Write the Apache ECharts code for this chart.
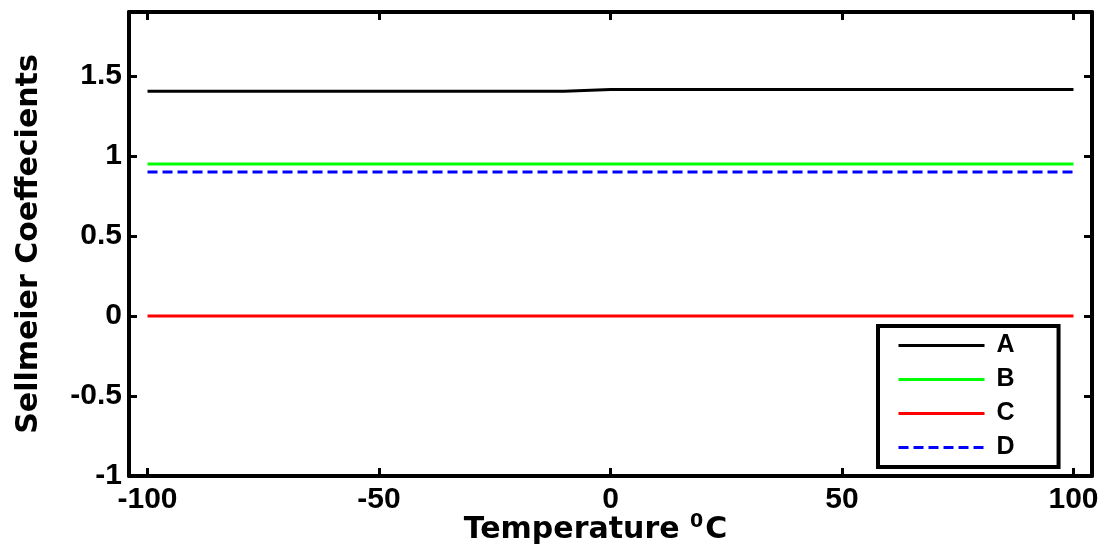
<!DOCTYPE html>
<html>
<head>
<meta charset="utf-8">
<script src="https://cdn.jsdelivr.net/npm/echarts@6/dist/echarts.min.js"></script>
<style>html,body{margin:0;padding:0;background:#fff}#c{width:1102px;height:552px}</style>
</head>
<body>
<div id="c"></div>
<script>
var temps = [-100,-90,-80,-70,-60,-50,-40,-30,-20,-10,0,10,20,30,40,50,60,70,80,90,100];
var seriesA = [1.405,1.405,1.405,1.405,1.405,1.405,1.405,1.405,1.405,1.405,1.415,1.415,1.415,1.415,1.415,1.415,1.415,1.415,1.415,1.415,1.415];
var seriesB = [0.95,0.95,0.95,0.95,0.95,0.95,0.95,0.95,0.95,0.95,0.95,0.95,0.95,0.95,0.95,0.95,0.95,0.95,0.95,0.95,0.95];
var seriesC = [0,0,0,0,0,0,0,0,0,0,0,0,0,0,0,0,0,0,0,0,0];
var seriesD = [0.90,0.90,0.90,0.90,0.90,0.90,0.90,0.90,0.90,0.90,0.90,0.90,0.90,0.90,0.90,0.90,0.90,0.90,0.90,0.90,0.90];
var names = ['A','B','C','D'];
var colors = ['#000000','#00ff00','#ff0000','#0000ff'];
var xTickValues = [-100,-50,0,50,100];
var yTickLabels = ['-1','-0.5','0','0.5','1','1.5'];

function pairs(ys){ return temps.map(function(t,i){ return [t, ys[i]]; }); }
var FONT = 'Liberation Sans';
var TFONT = 'DejaVu Sans';
var axisLineStyle = {color:'#000', width:4};
function ticks(extra){ var t = {show:true, inside:true, length:8, lineStyle:{color:'#000', width:3}}; if (extra) t.customValues = extra; return t; }
var chart = echarts.init(document.getElementById('c'), null, {renderer:'canvas'});
var allSeries = [seriesA, seriesB, seriesC, seriesD];
chart.setOption({
  animation:false,
  backgroundColor:'#fff',
  grid:{left:129, right:10, top:12, bottom:76, containLabel:false, outerBoundsMode:'none'},
  xAxis:[{
    type:'value', min:-104, max:104, position:'bottom',
    axisLine:{show:true, onZero:false, lineStyle:axisLineStyle},
    axisTick:ticks(xTickValues),
    splitLine:{show:false},
    axisLabel:{show:true, customValues:xTickValues, margin:9, fontFamily:FONT, fontWeight:'bold', fontSize:30, color:'#000'},
    name:'Temperature {sup|0}C', nameLocation:'middle', nameGap:37, nameMoveOverlap:false,
    nameTextStyle:{fontFamily:TFONT, fontWeight:'bold', fontSize:30, color:'#000', padding:[0,30,0,0],
      rich:{sup:{fontFamily:TFONT, fontWeight:'bold', fontSize:19, color:'#000', verticalAlign:'top', padding:[0,2,16,0]}}}
  },{
    type:'value', min:-104, max:104, position:'top',
    axisLine:{show:true, onZero:false, lineStyle:axisLineStyle},
    axisTick:ticks(xTickValues), axisLabel:{show:false}, splitLine:{show:false}
  }],
  yAxis:[{
    type:'value', min:-1, max:1.9, interval:0.5, position:'left',
    axisLine:{show:true, onZero:false, lineStyle:axisLineStyle},
    axisTick:ticks(),
    splitLine:{show:false},
    axisLabel:{show:true, margin:7, fontFamily:FONT, fontWeight:'bold', fontSize:30, color:'#000',
      formatter:function(v){ var s=String(v); return yTickLabels.indexOf(s)>=0 ? s : ''; }},
    name:'Sellmeier Coeffecients', nameLocation:'middle', nameGap:85, nameRotate:90, nameMoveOverlap:false,
    nameTextStyle:{fontFamily:TFONT, fontWeight:'bold', fontSize:30, color:'#000'}
  },{
    type:'value', min:-1, max:1.9, interval:0.5, position:'right',
    axisLine:{show:true, onZero:false, lineStyle:axisLineStyle},
    axisTick:ticks(), axisLabel:{show:false}, splitLine:{show:false}
  }],
  legend:{
    show:true, orient:'vertical', left:878, top:326,
    data:names,
    itemWidth:86, itemHeight:22, itemGap:9,
    padding:[7,44,7,19],
    borderColor:'#000', borderWidth:4, backgroundColor:'#fff',
    itemStyle:{opacity:0, borderWidth:0, color:'rgba(0,0,0,0)'},
    lineStyle:{width:3},
    textStyle:{fontFamily:FONT, fontWeight:'bold', fontSize:25, color:'#000', padding:[0,0,0,7]}
  },
  series: allSeries.map(function(ys, i){
    return {
      name:names[i], type:'line', xAxisIndex:0, yAxisIndex:0,
      data:pairs(ys), showSymbol:false, symbol:'none',
      lineStyle:{color:colors[i], width:3, type: i===3 ? [10,5] : 'solid'},
      itemStyle:{color:colors[i]}, z: i===0?5:3
    };
  })
});
</script>
</body>
</html>
